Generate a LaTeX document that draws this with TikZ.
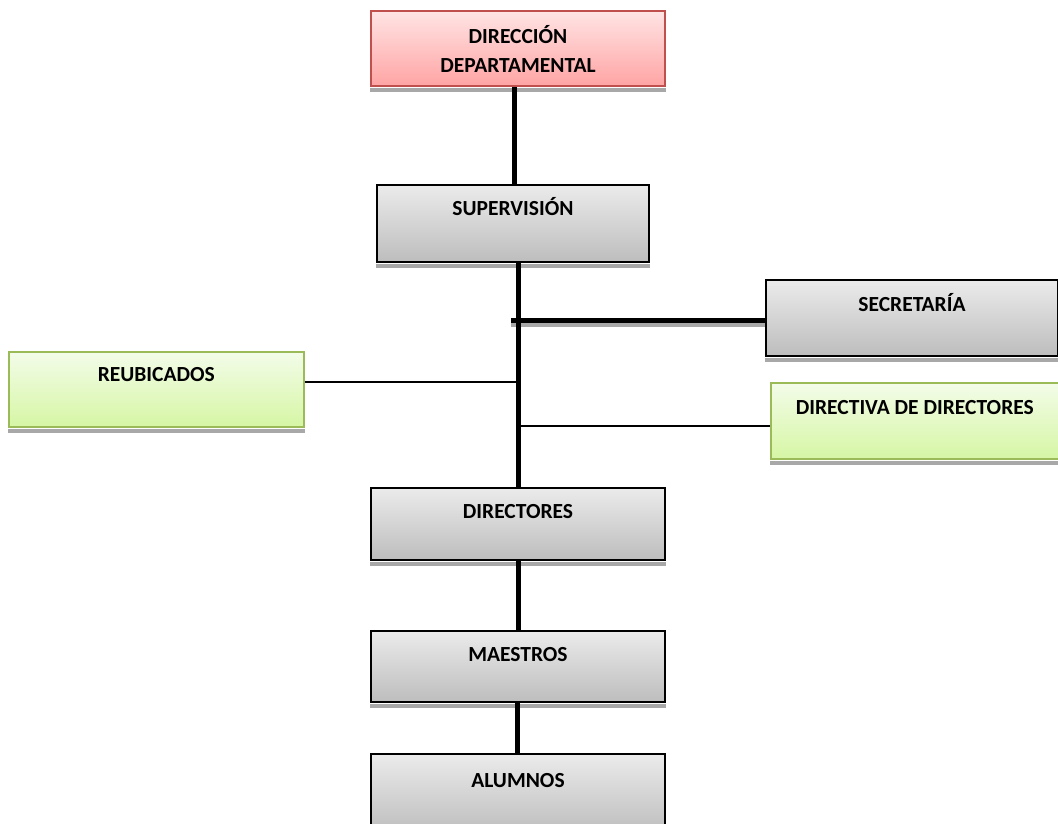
\documentclass[tikz,border=0pt]{standalone}
\usepackage{fontspec}
\setmainfont{Carlito}
\usetikzlibrary{calc}
\definecolor{greytop}{HTML}{EBEBEB}
\definecolor{greybot}{HTML}{BDBDBD}
\definecolor{redtop}{HTML}{FFE4E4}
\definecolor{redbot}{HTML}{FFA4A4}
\definecolor{redline}{HTML}{C0504D}
\definecolor{greentop}{HTML}{F3FCE9}
\definecolor{greenbot}{HTML}{D6F6A4}
\definecolor{greenline}{HTML}{9BBB59}
\definecolor{shadowc}{HTML}{A8A8A8}
\tikzset{
  box/.style={rectangle, anchor=north west, inner sep=0pt, line width=2pt},
  greybox/.style={box, draw=black, top color=greytop, bottom color=greybot},
  redbox/.style={box, draw=redline, top color=redtop, bottom color=redbot},
  greenbox/.style={box, draw=greenline, line width=1.6pt, top color=greentop, bottom color=greenbot},
  lbl/.style={font=\fontsize{21.5}{29.5}\selectfont\bfseries, inner sep=0pt, text height=15pt, text depth=4pt, align=center},
  thickline/.style={line width=5pt},
  thinline/.style={line width=2pt},
}
\newcommand{\boxshadow}[1]{\fill[shadowc] ($(#1.south west)+(0,1)$) rectangle ($(#1.south east)+(0,5)$);}
\begin{document}
\begin{tikzpicture}[x=1pt,y=-1pt]
\useasboundingbox (0,0) rectangle (1058,823);
\clip (0,0) rectangle (1058,823);
% boxes
\node[redbox, minimum width=294pt, minimum height=75pt] (dir) at (370,10) {};
\node[greybox, minimum width=272pt, minimum height=77pt] (sup) at (376,184) {};
\node[greybox, minimum width=292pt, minimum height=76pt] (sec) at (765,279) {};
\node[greenbox, minimum width=295pt, minimum height=75pt] (reu) at (8,351) {};
\node[greenbox, minimum width=290pt, minimum height=76pt] (dd) at (770,382) {};
\node[greybox, minimum width=294pt, minimum height=72pt] (dtor) at (370,487) {};
\node[greybox, minimum width=294pt, minimum height=71pt] (mae) at (370,630) {};
\node[greybox, minimum width=294pt, minimum height=80pt] (alu) at (370,753) {};
% shadows
\boxshadow{dir}
\boxshadow{sup}
\boxshadow{sec}
\boxshadow{reu}
\boxshadow{dd}
\boxshadow{dtor}
\boxshadow{mae}
% labels
\node[lbl] (tdir) at ($(dir.north)+(0,57)$) {DIRECCIÓN\\DEPARTAMENTAL};
\node[lbl] (tsup) at ($(sup.north)+(0,26)$) {SUPERVISIÓN};
\node[lbl] (tsec) at ($(sec.north)+(0,27)$) {SECRETARÍA};
\node[lbl] (treu) at ($(reu.north)+(0,25)$) {REUBICADOS};
\node[lbl] (tdd) at ($(dd.north)+(-1,27)$) {DIRECTIVA DE DIRECTORES};
\node[lbl] (tdtor) at ($(dtor.north)+(0,26)$) {DIRECTORES};
\node[lbl] (tmae) at ($(mae.north)+(0,26)$) {MAESTROS};
\node[lbl] (talu) at ($(alu.north)+(0,29)$) {ALUMNOS};
% junction coordinates
\coordinate (jsec) at (511,320);
\coordinate (jreu) at (517,382);
\coordinate (jdd) at (517,426);
% connectors
\draw[thickline] ($(dir.south -| sup.north)+(1,0)$) -- ($(sup.north)+(1,0)$);
\fill[shadowc] ($(jsec)+(0,3)$) rectangle ($(jsec -| sec.west)+(0,7)$);
\draw[thickline] (jsec) -- (jsec -| sec.west);
\draw[thinline] (jreu -| reu.east) -- (jreu);
\draw[thinline] (jdd) -- (jdd -| dd.west);
\draw[thickline] (sup.south -| dtor.north) -- (dtor.north);
\draw[thickline] (dtor.south) -- (mae.north);
\draw[thickline] ($(mae.south)+(-1,0)$) -- ($(alu.north)+(-1,0)$);
\end{tikzpicture}
\end{document}
